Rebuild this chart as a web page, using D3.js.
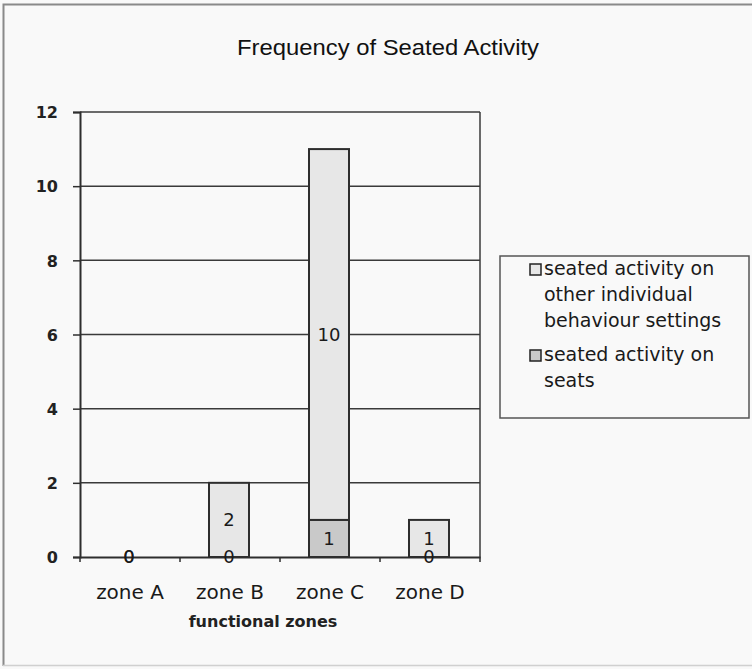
<!DOCTYPE html>
<html>
<head>
<meta charset="utf-8">
<script src="https://cdn.jsdelivr.net/npm/d3@7"></script>
<style>
  html, body { margin: 0; padding: 0; background: #f9f9f9; }
  svg { display: block; }
</style>
</head>
<body>
<svg id="chart" width="752" height="669"></svg>
<script>
// Frequency of seated activity per functional zone
const categories = ["zone A", "zone B", "zone C", "zone D"];
const seatsValues = [0, 0, 1, 0];          // seated activity on seats
const otherValues = [0, 2, 10, 1];         // seated activity on other individual behaviour settings
const yTicks = [0, 2, 4, 6, 8, 10, 12];
const seriesNames = [
  ["seated activity on", "other individual", "behaviour settings"],
  ["seated activity on", "seats"]
];

const svg = d3.select("#chart");
const W = 752, H = 669;
const plot = { left: 80, right: 480, top: 112, bottom: 557 };

// page frame
svg.append("rect").attr("x", 0).attr("y", 0).attr("width", W).attr("height", H).attr("fill", "#f9f9f9");
svg.append("path")
  .attr("d", `M3.5,${H - 3} L3.5,4.5 L${W + 2},4.5`)
  .attr("fill", "none").attr("stroke", "#8a8a8a").attr("stroke-width", 2);
svg.append("line").attr("x1", 3).attr("x2", W).attr("y1", H - 3.5).attr("y2", H - 3.5)
  .attr("stroke", "#d0d0d0").attr("stroke-width", 1.5);

const x = d3.scaleBand().domain(categories).range([plot.left, plot.right]).paddingInner(0).paddingOuter(0);
const y = d3.scaleLinear().domain([0, 12]).range([plot.bottom, plot.top]);

// title
svg.append("text")
  .attr("x", 388).attr("y", 55)
  .attr("text-anchor", "middle")
  .attr("font-family", "Liberation Sans, Arial, sans-serif")
  .attr("font-size", 22)
  .attr("fill", "#111")
  .attr("textLength", 302).attr("lengthAdjust", "spacingAndGlyphs")
  .text("Frequency of Seated Activity");

// gridlines
svg.append("g").selectAll("line").data(yTicks.filter(d => d > 0)).join("line")
  .attr("x1", plot.left).attr("x2", plot.right)
  .attr("y1", d => y(d)).attr("y2", d => y(d))
  .attr("stroke", "#3a3a3a").attr("stroke-width", 1.5);

// plot area right border
svg.append("line").attr("x1", plot.right).attr("x2", plot.right)
  .attr("y1", plot.top).attr("y2", plot.bottom)
  .attr("stroke", "#3a3a3a").attr("stroke-width", 1.5);

// stacked bars
const rows = categories.map((c, i) => ({ zone: c, seats: seatsValues[i], other: otherValues[i] }));
const stack = d3.stack().keys(["seats", "other"]);
const layers = stack(rows);
const fills = { seats: "#c9c9c9", other: "#e7e7e7" };
const barW = 40;

const layerG = svg.append("g").selectAll("g").data(layers).join("g")
  .attr("fill", d => fills[d.key]);
layerG.selectAll("rect").data(d => d.filter(s => s[1] - s[0] > 0)).join("rect")
  .attr("x", d => x(d.data.zone) + x.bandwidth() / 2 - barW / 2 - 1)
  .attr("y", d => y(d[1]))
  .attr("width", barW)
  .attr("height", d => y(d[0]) - y(d[1]))
  .attr("stroke", "#2e2e2e").attr("stroke-width", 2);

// axes
const yAxis = d3.axisLeft(y).tickValues(yTicks).tickSize(7).tickPadding(15).tickFormat(d3.format("d"));
const gy = svg.append("g").attr("transform", `translate(${plot.left},0)`).call(yAxis);
gy.select(".domain").attr("stroke", "#2e2e2e").attr("stroke-width", 2);
gy.selectAll(".tick line").attr("stroke", "#2e2e2e").attr("stroke-width", 1.5);
gy.selectAll(".tick text")
  .attr("font-family", "DejaVu Sans, Verdana, sans-serif")
  .attr("font-size", 16).attr("font-weight", "bold").attr("fill", "#222")
  .attr("dy", "0.36em");

const xAxis = d3.axisBottom(x).tickSize(0).tickPadding(28);
const gx = svg.append("g").attr("transform", `translate(0,${plot.bottom})`).call(xAxis);
gx.select(".domain").attr("stroke", "#2e2e2e").attr("stroke-width", 2);
gx.selectAll(".tick text")
  .attr("font-family", "DejaVu Sans, Verdana, sans-serif")
  .attr("font-size", 20).attr("fill", "#1a1a1a");
// category boundary ticks
const bounds = categories.map(c => x(c)).concat([plot.right]);
svg.append("g").selectAll("line").data(bounds).join("line")
  .attr("x1", d => d).attr("x2", d => d)
  .attr("y1", plot.bottom).attr("y2", plot.bottom + 5)
  .attr("stroke", "#2e2e2e").attr("stroke-width", 1.5);

// axis title
svg.append("text")
  .attr("x", 263).attr("y", 627)
  .attr("text-anchor", "middle")
  .attr("font-family", "DejaVu Sans, Verdana, sans-serif")
  .attr("font-size", 16).attr("font-weight", "bold").attr("fill", "#222")
  .text("functional zones");

// value labels at the middle of each segment
svg.append("g").selectAll("g").data(layers).join("g")
  .selectAll("text").data(d => d).join("text")
  .attr("x", d => x(d.data.zone) + x.bandwidth() / 2 - 1)
  .attr("y", d => y((d[0] + d[1]) / 2))
  .attr("dy", "0.36em")
  .attr("text-anchor", "middle")
  .attr("font-family", "DejaVu Sans, Verdana, sans-serif")
  .attr("font-size", 18).attr("fill", "#1a1a1a")
  .text(d => d[1] - d[0]);

// legend
const lg = svg.append("g");
lg.append("rect").attr("x", 500).attr("y", 256).attr("width", 249).attr("height", 162)
  .attr("fill", "#f9f9f9").attr("stroke", "#555").attr("stroke-width", 1.5);
const legendKeys = ["other", "seats"];
const legendTop = [275, 361];
legendKeys.forEach((k, i) => {
  lg.append("rect").attr("x", 530).attr("y", legendTop[i] - 11).attr("width", 11).attr("height", 11)
    .attr("fill", fills[k]).attr("stroke", "#222").attr("stroke-width", 1.5);
  seriesNames[i].forEach((line, j) => {
    lg.append("text")
      .attr("x", 544).attr("y", legendTop[i] + j * 26)
      .attr("font-family", "DejaVu Sans, Verdana, sans-serif")
      .attr("font-size", 19).attr("fill", "#1a1a1a")
      .text(line);
  });
});
</script>
</body>
</html>
